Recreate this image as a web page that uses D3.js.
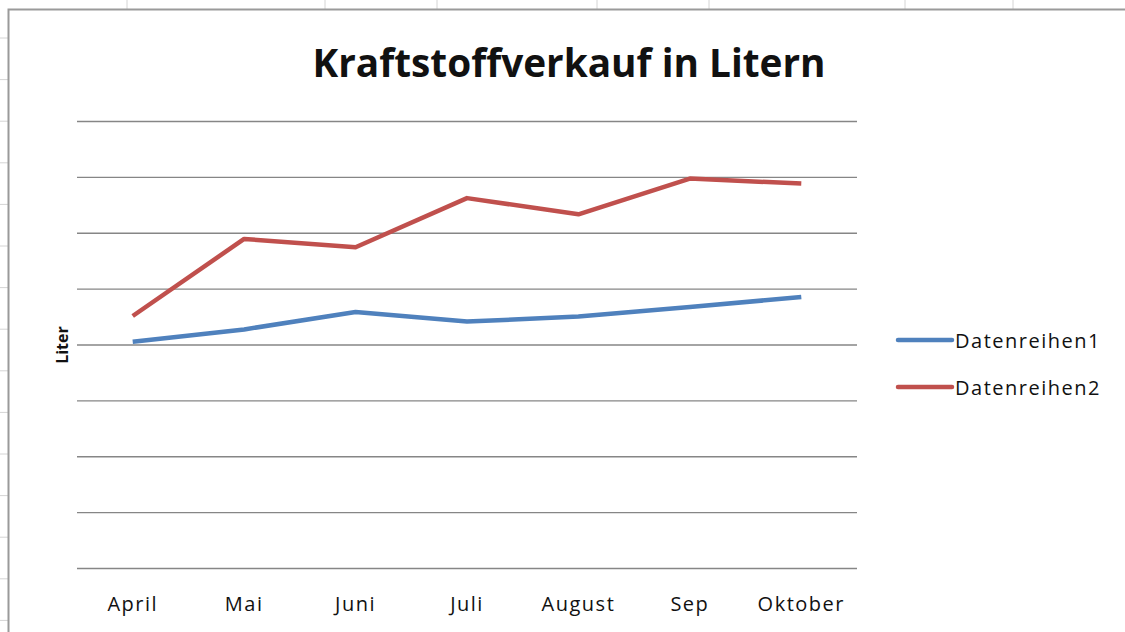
<!DOCTYPE html>
<html>
<head>
<meta charset="utf-8">
<script src="https://cdn.jsdelivr.net/npm/d3@7"></script>
<style>
  body { margin: 0; background: #fff; }
  svg { display: block; }
</style>
</head>
<body>
<div id="chart"></div>
<script>
// data (no axis labels, so units are relative)
const months = ["April", "Mai", "Juni", "Juli", "August", "Sep", "Oktober"];
const reihe1 = [405, 427, 458, 441, 450, 467, 485];
const reihe2 = [451, 589, 574, 662, 633, 697, 688];
const seriesNames = ["Datenreihen1", "Datenreihen2"];
const seriesColors = ["#4f81bd", "#c0504d"];
const yTicks = [0, 100, 200, 300, 400, 500, 600, 700, 800];

const width = 1125, height = 632;
const margin = { top: 121, right: 268, bottom: 64, left: 77 };
const plot_w = width - margin.left - margin.right,
  plot_h = height - margin.top - margin.bottom;

const svg = d3.select("#chart")
  .append("svg")
  .attr("width", width)
  .attr("height", height);

// spreadsheet cells behind the chart
const cellCols = [127, 325, 437, 597, 709, 905, 1013];
svg.selectAll(".cellcol")
  .data(cellCols)
  .enter()
  .append("line")
  .attr("x1", d => d).attr("x2", d => d)
  .attr("y1", 0).attr("y2", 9)
  .attr("stroke", "#d4d4d4");

svg.selectAll(".cellrow")
  .data(d3.range(38, 632, 41.6))
  .enter()
  .append("line")
  .attr("x1", 0).attr("x2", 8)
  .attr("y1", d => d).attr("y2", d => d)
  .attr("stroke", "#d4d4d4");

// chart frame
svg.append("rect")
  .attr("x", 8.5)
  .attr("y", 9.5)
  .attr("width", 1130)
  .attr("height", 640)
  .attr("fill", "#fff")
  .attr("stroke", "#9a9a9a")
  .attr("stroke-width", 2);

const g = svg.append("g")
  .attr("transform", `translate(${margin.left},${margin.top})`);

// scales
const x = d3.scaleBand()
  .domain(months)
  .range([0, plot_w]);

const y = d3.scaleLinear()
  .domain([0, 800])
  .range([plot_h, 0]);

// horizontal gridlines
g.append("g")
  .attr("class", "grid")
  .call(d3.axisLeft(y).tickValues(yTicks).tickSize(-plot_w).tickFormat(""))
  .call(s => s.select(".domain").remove())
  .call(s => s.selectAll("line").attr("stroke", "#868686").attr("stroke-width", 1.3));

// x axis labels
g.append("g")
  .attr("transform", `translate(0,${plot_h})`)
  .call(d3.axisBottom(x).tickSize(0).tickPadding(29))
  .call(s => s.select(".domain").remove())
  .call(s => s.selectAll("text")
    .attr("font-family", "'Open Sans', sans-serif")
    .attr("font-size", 20)
    .attr("letter-spacing", 1.5)
    .attr("fill", "#111"));

// lines
const line = d3.line()
  .x((d, i) => x(months[i]) + x.bandwidth() / 2)
  .y(d => y(d));

g.selectAll(".series")
  .data([reihe1, reihe2])
  .enter()
  .append("path")
  .attr("class", "series")
  .attr("fill", "none")
  .attr("stroke", (d, i) => seriesColors[i])
  .attr("stroke-width", 4.5)
  .attr("stroke-linejoin", "round")
  .attr("d", line);

// title
svg.append("text")
  .attr("x", 569)
  .attr("y", 77)
  .attr("text-anchor", "middle")
  .attr("font-family", "'Open Sans', sans-serif")
  .attr("font-weight", "bold")
  .attr("font-size", 40)
  .attr("textLength", 513)
  .attr("lengthAdjust", "spacingAndGlyphs")
  .attr("fill", "#111")
  .text("Kraftstoffverkauf in Litern");

// y axis title
svg.append("text")
  .attr("transform", "translate(68,345) rotate(-90)")
  .attr("text-anchor", "middle")
  .attr("font-family", "'Open Sans', sans-serif")
  .attr("font-weight", "bold")
  .attr("font-size", 16)
  .attr("fill", "#111")
  .text("Liter");

// legend
const legend = svg.append("g")
  .attr("transform", "translate(898,340)");

const item = legend.selectAll(".item")
  .data(seriesNames)
  .enter()
  .append("g")
  .attr("class", "item")
  .attr("transform", (d, i) => `translate(0,${i * 47})`);

item.append("line")
  .attr("x1", 0).attr("x2", 54)
  .attr("stroke", (d, i) => seriesColors[i])
  .attr("stroke-width", 4.5)
  .attr("stroke-linecap", "round");

item.append("text")
  .attr("x", 57)
  .attr("y", 8)
  .attr("font-family", "'Open Sans', sans-serif")
  .attr("font-size", 20)
  .attr("letter-spacing", 1.5)
  .attr("fill", "#111")
  .text(d => d);
</script>
</body>
</html>
